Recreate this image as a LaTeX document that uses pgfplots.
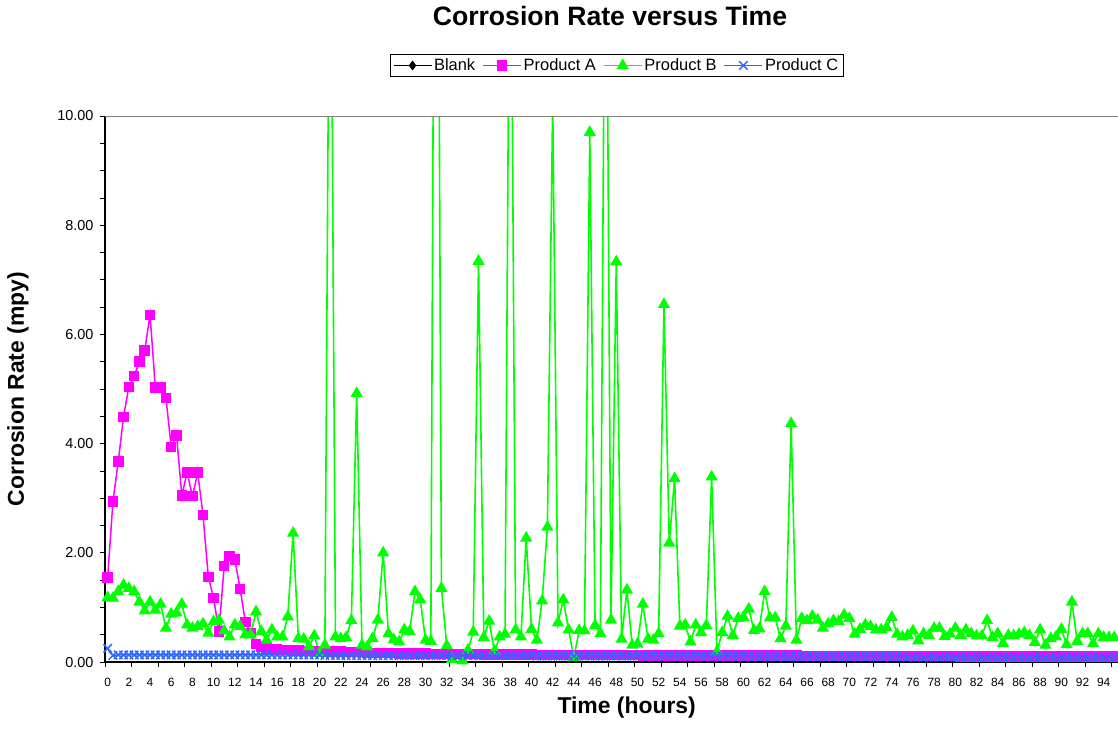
\documentclass[border=0pt]{standalone}
\usepackage{fontspec}
\setmainfont{Liberation Sans}
\usepackage{pgfplots}
\usepackage{pgfplotstable}
\pgfplotsset{compat=1.18}

\definecolor{prodA}{RGB}{255,0,255}
\definecolor{prodB}{RGB}{0,255,0}
\definecolor{prodC}{RGB}{51,102,255}

% time (h), Product A, Product B, Product C (mpy)
\pgfplotstableread{
t A B C
0 1.55 1.18 0.25
0.5 2.94 1.17 0.12
1 3.67 1.29 0.13
1.5 4.49 1.41 0.13
2 5.04 1.35 0.13
2.5 5.24 1.29 0.13
3 5.50 1.10 0.13
3.5 5.71 0.94 0.13
4 6.36 1.10 0.13
4.5 5.03 0.95 0.13
5 5.03 1.06 0.13
5.5 4.84 0.62 0.13
6 3.94 0.88 0.13
6.5 4.15 0.90 0.13
7 3.05 1.06 0.13
7.5 3.47 0.68 0.13
8 3.04 0.62 0.13
8.5 3.47 0.65 0.13
9 2.69 0.70 0.13
9.5 1.56 0.53 0.13
10 1.17 0.74 0.13
10.5 0.56 0.77 0.13
11 1.76 0.57 0.13
11.5 1.94 0.46 0.13
12 1.88 0.68 0.13
12.5 1.34 0.65 0.13
13 0.73 0.50 0.13
13.5 0.53 0.50 0.13
14 0.33 0.92 0.13
14.5 0.28 0.56 0.13
15 0.25 0.40 0.13
15.5 0.24 0.59 0.13
16 0.23 0.46 0.13
16.5 0.22 0.46 0.13
17 0.22 0.83 0.13
17.5 0.21 2.36 0.13
18 0.21 0.43 0.13
18.5 0.20 0.42 0.13
19 0.20 0.28 0.13
19.5 0.20 0.48 0.13
20 0.20 0.16 0.13
20.5 0.19 0.31 0.12
21 0.19 16 0.12
21.5 0.19 0.46 0.12
22 0.19 0.43 0.12
22.5 0.18 0.45 0.12
23 0.18 0.76 0.12
23.5 0.18 4.92 0.12
24 0.18 0.31 0.12
24.5 0.17 0.28 0.12
25 0.17 0.43 0.12
25.5 0.17 0.77 0.12
26 0.17 2.00 0.12
26.5 0.17 0.52 0.12
27 0.17 0.41 0.12
27.5 0.16 0.37 0.12
28 0.16 0.59 0.12
28.5 0.16 0.56 0.12
29 0.16 1.29 0.12
29.5 0.16 1.14 0.12
30 0.16 0.40 0.12
30.5 0.15 0.38 0.12
31 0.15 23 0.12
31.5 0.15 1.35 0.12
32 0.15 0.30 0.12
32.5 0.15 0.05 0.12
33 0.15 -0.05 0.12
33.5 0.15 0.02 0.12
34 0.15 0.22 0.12
34.5 0.15 0.55 0.12
35 0.15 7.34 0.12
35.5 0.14 0.45 0.12
36 0.14 0.75 0.12
36.5 0.14 0.20 0.12
37 0.14 0.46 0.12
37.5 0.14 0.51 0.12
38 0.14 16 0.12
38.5 0.14 0.59 0.12
39 0.14 0.46 0.12
39.5 0.14 2.27 0.12
40 0.14 0.60 0.12
40.5 0.13 0.40 0.11
41 0.13 1.12 0.11
41.5 0.13 2.47 0.11
42 0.13 10.3 0.11
42.5 0.13 0.72 0.11
43 0.13 1.14 0.11
43.5 0.13 0.59 0.11
44 0.13 0.08 0.11
44.5 0.13 0.58 0.11
45 0.13 0.57 0.11
45.5 0.13 9.70 0.11
46 0.13 0.67 0.11
46.5 0.13 0.52 0.11
47 0.13 16 0.11
47.5 0.13 0.77 0.11
48 0.13 7.33 0.11
48.5 0.13 0.42 0.11
49 0.13 1.32 0.11
49.5 0.13 0.31 0.11
50 0.13 0.33 0.11
50.5 0.12 1.06 0.11
51 0.12 0.42 0.11
51.5 0.12 0.40 0.11
52 0.12 0.52 0.11
52.5 0.12 6.55 0.11
53 0.12 2.18 0.11
53.5 0.12 3.36 0.11
54 0.12 0.66 0.11
54.5 0.12 0.68 0.11
55 0.12 0.37 0.11
55.5 0.12 0.68 0.11
56 0.12 0.54 0.11
56.5 0.12 0.67 0.11
57 0.12 3.39 0.11
57.5 0.12 0.19 0.11
58 0.12 0.54 0.11
58.5 0.12 0.84 0.11
59 0.12 0.49 0.11
59.5 0.12 0.80 0.11
60 0.12 0.82 0.11
60.5 0.12 0.97 0.10
61 0.12 0.58 0.10
61.5 0.12 0.61 0.10
62 0.12 1.29 0.10
62.5 0.12 0.81 0.10
63 0.12 0.81 0.10
63.5 0.12 0.43 0.10
64 0.12 0.66 0.10
64.5 0.12 4.37 0.10
65 0.12 0.40 0.10
65.5 0.11 0.80 0.10
66 0.11 0.76 0.10
66.5 0.11 0.84 0.10
67 0.11 0.77 0.10
67.5 0.11 0.62 0.10
68 0.11 0.70 0.10
68.5 0.11 0.76 0.10
69 0.11 0.74 0.10
69.5 0.11 0.86 0.10
70 0.11 0.80 0.10
70.5 0.11 0.51 0.10
71 0.11 0.60 0.10
71.5 0.11 0.68 0.10
72 0.11 0.65 0.10
72.5 0.11 0.59 0.10
73 0.11 0.59 0.10
73.5 0.11 0.63 0.10
74 0.11 0.82 0.10
74.5 0.11 0.51 0.10
75 0.11 0.46 0.10
75.5 0.11 0.49 0.09
76 0.11 0.57 0.09
76.5 0.11 0.39 0.09
77 0.11 0.52 0.09
77.5 0.11 0.49 0.09
78 0.11 0.62 0.09
78.5 0.11 0.62 0.09
79 0.11 0.47 0.09
79.5 0.11 0.51 0.09
80 0.11 0.62 0.09
80.5 0.10 0.49 0.09
81 0.10 0.59 0.09
81.5 0.10 0.52 0.09
82 0.10 0.48 0.09
82.5 0.10 0.48 0.09
83 0.10 0.76 0.09
83.5 0.10 0.45 0.09
84 0.10 0.52 0.09
84.5 0.10 0.34 0.09
85 0.10 0.49 0.09
85.5 0.10 0.48 0.09
86 0.10 0.51 0.09
86.5 0.10 0.54 0.09
87 0.10 0.49 0.09
87.5 0.10 0.36 0.09
88 0.10 0.59 0.09
88.5 0.10 0.31 0.09
89 0.10 0.43 0.09
89.5 0.10 0.46 0.09
90 0.10 0.60 0.09
90.5 0.10 0.32 0.09
91 0.10 1.10 0.09
91.5 0.10 0.38 0.09
92 0.10 0.52 0.09
92.5 0.10 0.52 0.09
93 0.10 0.34 0.09
93.5 0.10 0.52 0.09
94 0.10 0.45 0.09
94.5 0.10 0.45 0.09
95 0.10 0.45 0.09
}\corrosion

\begin{document}
\begin{tikzpicture}
\begin{axis}[
    scale only axis,
    width=1013bp, height=546bp,
    xmin=-0.25, xmax=95.35,
    ymin=0, ymax=10,
    axis x line*=bottom,
    axis y line*=left,
    axis line style={black, line width=1.2bp},
    tick align=outside,
    major tick length=5bp,
    minor tick length=5bp,
    tick style={black, line width=0.8bp},
    xtick={0,2,...,94},
    minor xtick={-0.25,2.25,...,94.75},
    major x tick style={draw=none},
    ytick={0,2,...,10},
    minor y tick num=3,
    /pgf/number format/assume math mode=true,
    yticklabel style={font=\fontsize{14.5}{16}\selectfont, xshift=-3bp,
        /pgf/number format/fixed, /pgf/number format/fixed zerofill,
        /pgf/number format/precision=2},
    xticklabel style={font=\fontsize{12}{14}\selectfont, yshift=-8bp},
    title={Corrosion Rate versus Time},
    title style={at={(axis description cs:0.4985,1.1721)}, anchor=center,
        font=\bfseries\fontsize{26.7}{30}\selectfont},
    xlabel={Time (hours)},
    xlabel style={at={(axis description cs:0.515,-0.0843)}, anchor=center,
        font=\bfseries\fontsize{23}{26}\selectfont},
    ylabel={Corrosion Rate (mpy)},
    ylabel style={at={(axis description cs:-0.0859,0.5)}, anchor=center, rotate=0,
        font=\bfseries\fontsize{23}{26}\selectfont},
    legend columns=4,
    legend style={at={(0.505,1.0925)}, anchor=center, draw=black,
        font=\fontsize{16.5}{18}\selectfont, inner xsep=3bp, inner ysep=2.5bp,
        /tikz/every even column/.append style={column sep=5bp}},
    legend image code/.code={\draw[mark repeat=2,mark phase=2]
        plot coordinates {(0bp,0bp) (19bp,0bp) (38bp,0bp)};},
]
\addlegendimage{black, line width=1.2bp, mark=diamond*, mark size=4bp}
\addlegendentry{Blank}
\addplot[prodA, line width=1.5bp, mark=square*, mark size=4.5bp,
    mark options={fill=prodA}] table[x=t, y=A] {\corrosion};
\addlegendentry{Product A}
\addplot[prodB, line width=1.6bp, mark=triangle*, mark size=5.5bp,
    mark options={fill=prodB}] table[x=t, y=B] {\corrosion};
\addlegendentry{Product B}
\addplot[prodC, line width=1.5bp, mark=x, mark size=6bp] table[x=t, y=C] {\corrosion};
\addlegendentry{Product C}
\draw[gray, line width=1.2bp] (rel axis cs:0,1) -- (rel axis cs:1,1);
\coordinate (ll) at (rel axis cs:0,0);
\coordinate (ur) at (rel axis cs:1,1);
\end{axis}
\pgfresetboundingbox
\path[use as bounding box] ([xshift=-105bp,yshift=-85bp]ll) rectangle ([yshift=116bp]ur);
\end{tikzpicture}
\end{document}
